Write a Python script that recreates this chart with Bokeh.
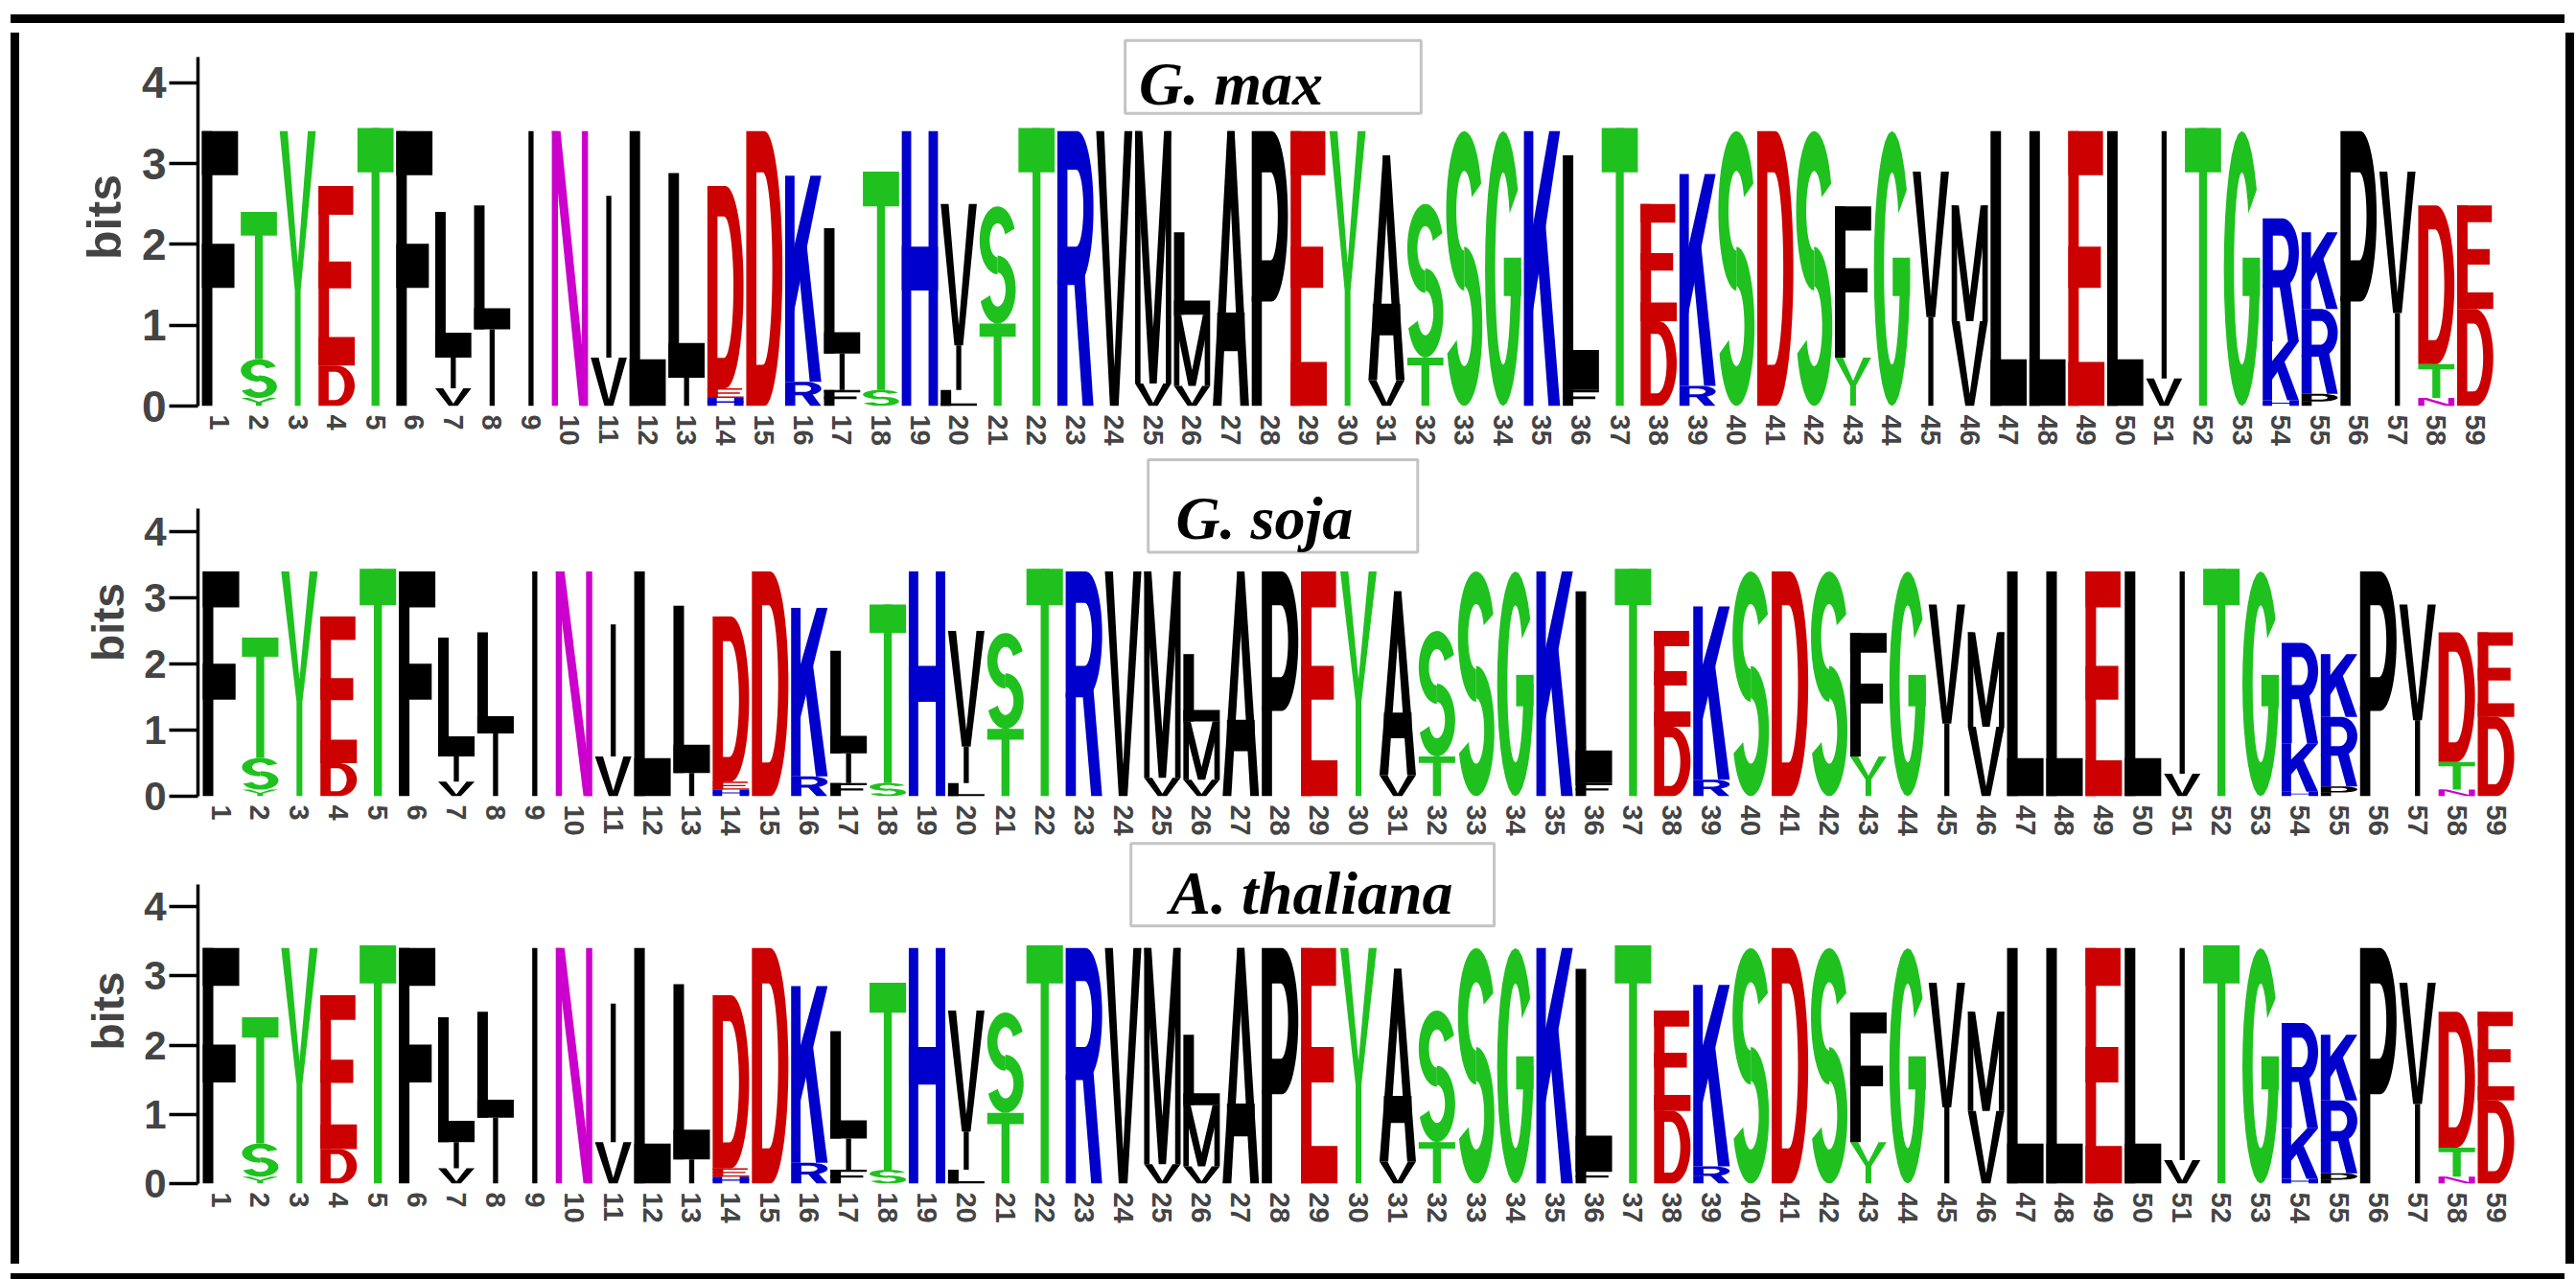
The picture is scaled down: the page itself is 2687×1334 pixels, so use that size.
import numpy as np
from bokeh.plotting import figure
from bokeh.layouts import column, row
from bokeh.models import (ColumnDataSource, FixedTicker, Range1d, BoxAnnotation,
                          Label, Div, Spacer)
from bokeh.embed import file_html
from bokeh.resources import INLINE

# ---------------- data ----------------
positions = list(range(1, 60))
# letters of each column, bottom -> top
stack_letters = ["F", "YST", "Y", "DE", "T", "F", "VIL", "IL", "I", "N",
                 "VI", "L", "IL", "HED", "D", "RK", "FIL", "ST", "H", "LIV",
                 "TS", "T", "R", "V", "VM", "VML", "A", "P", "E", "Y",
                 "VA", "TS", "S", "G", "K", "FL", "T", "DE", "RK", "S",
                 "D", "S", "YF", "G", "IV", "VM", "L", "L", "E", "L",
                 "VI", "T", "G", "HKR", "PRK", "P", "IV", "NTD", "DE"]
# letter heights in bits, bottom -> top
stack_heights = [[3.4], [0.1, 0.48, 1.82], [3.4], [0.5, 2.22], [3.44], [3.4], [0.22, 0.38, 1.8], [0.95, 1.53], [3.4], [3.4],
                 [0.6, 2.0], [3.4], [0.35, 2.53], [0.1, 0.12, 2.5], [3.4], [0.3, 2.55], [0.2, 0.45, 1.55], [0.2, 2.7], [3.4], [0.2, 0.55, 1.75],
                 [1.02, 1.45], [3.44], [3.4], [3.4], [0.28, 3.12], [0.25, 0.88, 1.02], [3.4], [3.4], [3.4], [3.4],
                 [0.32, 2.78], [0.6, 1.9], [3.4], [3.4], [3.4], [0.2, 2.9], [3.44], [1.05, 1.45], [0.25, 2.62], [3.4],
                 [3.4], [3.4], [0.6, 1.87], [3.4], [1.1, 1.8], [1.05, 1.43], [3.4], [3.4], [3.4], [3.4],
                 [0.34, 3.06], [3.44], [3.4], [0.07, 0.73, 1.52], [0.15, 1.05, 0.95], [3.4], [1.15, 1.75], [0.1, 0.42, 1.96], [1.2, 1.28]]
panel_titles = ["G. max", "G. soja", "A. thaliana"]
y_ticks = [0, 1, 2, 3, 4]

GREEN, RED, BLUE, MAGENTA, BLACK = "#1FC11F", "#CC0000", "#0000CC", "#CC00CC", "#000000"
letter_colors = {}
for c in "GSTYC":
    letter_colors[c] = GREEN
for c in "NQ":
    letter_colors[c] = MAGENTA
for c in "KRH":
    letter_colors[c] = BLUE
for c in "DE":
    letter_colors[c] = RED

# ---------------- glyph outlines in a unit box ----------------
def arc(cx, cy, rx, ry, a0, a1, n=30):
    t = np.radians(np.linspace(a0, a1, n))
    return list(zip(cx + rx * np.cos(t), cy + ry * np.sin(t)))

def rect(x0, y0, x1, y1):
    return [[(x0, y0), (x1, y0), (x1, y1), (x0, y1)]]

def poly(*pts):
    return [list(pts)]

def sector(cx, cy, rxo, ryo, rxi, ryi, a0, a1):
    return [arc(cx, cy, rxo, ryo, a0, a1) + arc(cx, cy, rxi, ryi, a1, a0)]

def bowl(y0, y1, sx, th, tv):
    cy = (y0 + y1) / 2
    ry = (y1 - y0) / 2
    xo = 0.55
    ext = [(0, y0), (xo, y0)] + arc(xo, cy, 1 - xo, ry, -90, 90) + [(xo, y1), (0, y1)]
    hole = [(sx, y0 + tv), (xo - 0.03, y0 + tv)] + arc(xo - 0.03, cy, 1 - xo - th, ry - tv, -90, 90) + \
           [(xo - 0.03, y1 - tv), (sx, y1 - tv)]
    return [ext, hole]

GLYPHS = {
    "F": [rect(0, 0, .29, 1), rect(0, .84, 1, 1), rect(0, .43, .9, .59)],
    "E": [rect(0, 0, .29, 1), rect(0, .84, .96, 1), rect(0, .43, .9, .58), rect(0, 0, 1, .16)],
    "L": [rect(0, 0, .29, 1), rect(0, 0, 1, .17)],
    "T": [rect(0, .84, 1, 1), rect(.39, 0, .61, 1)],
    "I": [rect(.43, 0, .57, 1)],
    "H": [rect(0, 0, .26, 1), rect(.74, 0, 1, 1), rect(0, .42, 1, .58)],
    "N": [rect(0, 0, .17, 1), rect(.83, 0, 1, 1), poly((0, 1), (.24, 1), (1, 0), (.76, 0))],
    "M": [rect(0, 0, .15, 1), rect(.85, 0, 1, 1),
          poly((0, 1), (.2, 1), (.5, .22), (.8, 1), (1, 1), (.6, 0), (.4, 0))],
    "V": [poly((0, 1), (.22, 1), (.5, .14), (.78, 1), (1, 1), (.62, 0), (.38, 0))],
    "Y": [poly((0, 1), (.22, 1), (.5, .52), (.78, 1), (1, 1), (.58, .42), (.58, 0), (.42, 0), (.42, .42))],
    "A": [poly((0, 0), (.24, 0), (.6, 1), (.4, 1)), poly((.76, 0), (1, 0), (.6, 1), (.4, 1)),
          rect(.12, .2, .88, .34)],
    "K": [rect(0, 0, .26, 1), poly((.2, .3), (1, 1), (.7, 1), (.2, .62)),
          poly((.4, .5), (.68, 0), (1, 0), (.6, .66))],
    "D": [[[(0, 0), (.5, 0)] + arc(.5, .5, .5, .5, -90, 90) + [(.5, 1), (0, 1)],
           [(.28, .15), (.46, .15)] + arc(.46, .5, .26, .35, -90, 90) + [(.46, .85), (.28, .85)]]],
    "P": [rect(0, 0, .28, .4), bowl(.38, 1.0, .28, .25, .15)],
    "R": [rect(0, 0, .28, .46), bowl(.44, 1.0, .28, .25, .14),
          poly((.45, .48), (.7, 0), (1, 0), (.75, .5))],
    "S": [sector(.5, .71, .5, .29, .22, .145, 20, 270), sector(.5, .29, .5, .29, .22, .145, 90, -160)],
    "G": [sector(.5, .5, .5, .5, .22, .35, 35, 360), rect(.52, .4, 1, .54)],
}

LETTER_W = 0.93

def build_source():
    # one item per outline piece, so that overlapping pieces never cancel out
    xs, ys, cols = [], [], []
    for pos, letters, heights in zip(positions, stack_letters, stack_heights):
        base = 0.0
        for ch, h in zip(letters, heights):
            for pg in GLYPHS[ch]:
                rx, ry = [], []
                for ring in pg:
                    rx.append([pos - LETTER_W / 2 + u * LETTER_W for u, v in ring])
                    ry.append([base + v * h for u, v in ring])
                xs.append([rx])
                ys.append([ry])
                cols.append(letter_colors.get(ch, BLACK))
            base += h
    return ColumnDataSource(dict(xs=xs, ys=ys, color=cols))

# ---------------- layout of the three panels ----------------
INNER_W = 2646
panel_cfg = [
    dict(h=438, bottom=35, left=179, x0=0.434, x1=60.15, ymax=4.672, atop=4.32,
         box=(24.28, 31.89, 3.62, 4.52), text_x=27.0, text_y=3.98, tick_fs="46px", lab_fs="50px"),
    dict(h=407, bottom=32, left=181, x0=0.413, x1=59.61, ymax=5.263, atop=4.35,
         box=(24.64, 31.51, 3.69, 5.09), text_x=27.6, text_y=4.2, tick_fs="42px", lab_fs="46px"),
    dict(h=439, bottom=79, left=181, x0=0.413, x1=59.61, ymax=4.983, atop=4.32,
         box=(24.20, 33.46, 3.72, 4.91), text_x=28.8, text_y=4.2, tick_fs="42px", lab_fs="46px"),
]

figs = []
for title, cfg in zip(panel_titles, panel_cfg):
    p = figure(width=INNER_W, height=cfg["h"], output_backend="svg", toolbar_location=None,
               x_range=Range1d(cfg["x0"], cfg["x1"]), y_range=Range1d(0, cfg["ymax"]),
               min_border_left=cfg["left"], min_border_right=43, min_border_top=0,
               min_border_bottom=cfg["bottom"], outline_line_color=None,
               background_fill_color="white", border_fill_color="white")
    p.grid.visible = False
    p.multi_polygons(xs="xs", ys="ys", fill_color="color", line_color=None, source=build_source())

    ya = p.yaxis[0]
    ya.ticker = FixedTicker(ticks=y_ticks)
    ya.bounds = (0, cfg["atop"])
    ya.axis_label = "bits"
    ya.axis_label_text_font = "Liberation Sans"
    ya.axis_label_text_font_style = "bold"
    ya.axis_label_text_font_size = cfg["lab_fs"]
    ya.axis_label_standoff = 8
    ya.major_label_text_font = "Liberation Sans"
    ya.major_label_text_font_style = "bold"
    ya.major_label_text_font_size = cfg["tick_fs"]
    ya.major_label_standoff = 3
    ya.axis_line_width = 3.5
    ya.major_tick_line_width = 3.5
    ya.major_tick_out = 30
    ya.major_tick_in = 0
    ya.minor_tick_line_color = None

    xa = p.xaxis[0]
    xa.ticker = FixedTicker(ticks=positions)
    xa.major_label_orientation = "vertical"
    xa.major_label_text_font = "Liberation Sans"
    xa.major_label_text_font_style = "bold"
    xa.major_label_text_font_size = "29px"
    xa.major_label_standoff = 3
    xa.axis_line_color = None
    xa.major_tick_line_color = None
    xa.minor_tick_line_color = None

    l, r, b, t = cfg["box"]
    p.add_layout(BoxAnnotation(left=l, right=r, bottom=b, top=t, fill_color="white", fill_alpha=1.0,
                               line_color="#3c3c3c", line_width=3, level="underlay"))
    p.add_layout(Label(x=cfg["text_x"], y=cfg["text_y"], text=title, text_align="center",
                       text_baseline="middle", text_font="Liberation Serif",
                       text_font_style="bold italic", text_font_size="64px", text_color="black"))
    figs.append(p)

TOTAL_H = sum(c["h"] for c in panel_cfg)
BW = 9
def bar(w, h):
    return Div(text="", width=w, height=h, styles={"background-color": "black"})

framed = column(bar(INNER_W + 2 * BW, BW),
                row(bar(BW, TOTAL_H), column(*figs, spacing=0), bar(BW, TOTAL_H), spacing=0),
                bar(INNER_W + 2 * BW, BW), spacing=0)
root = column(Spacer(height=10), row(Spacer(width=6), framed, spacing=0), spacing=0)

open("out.html", "w").write(file_html(root, INLINE))
